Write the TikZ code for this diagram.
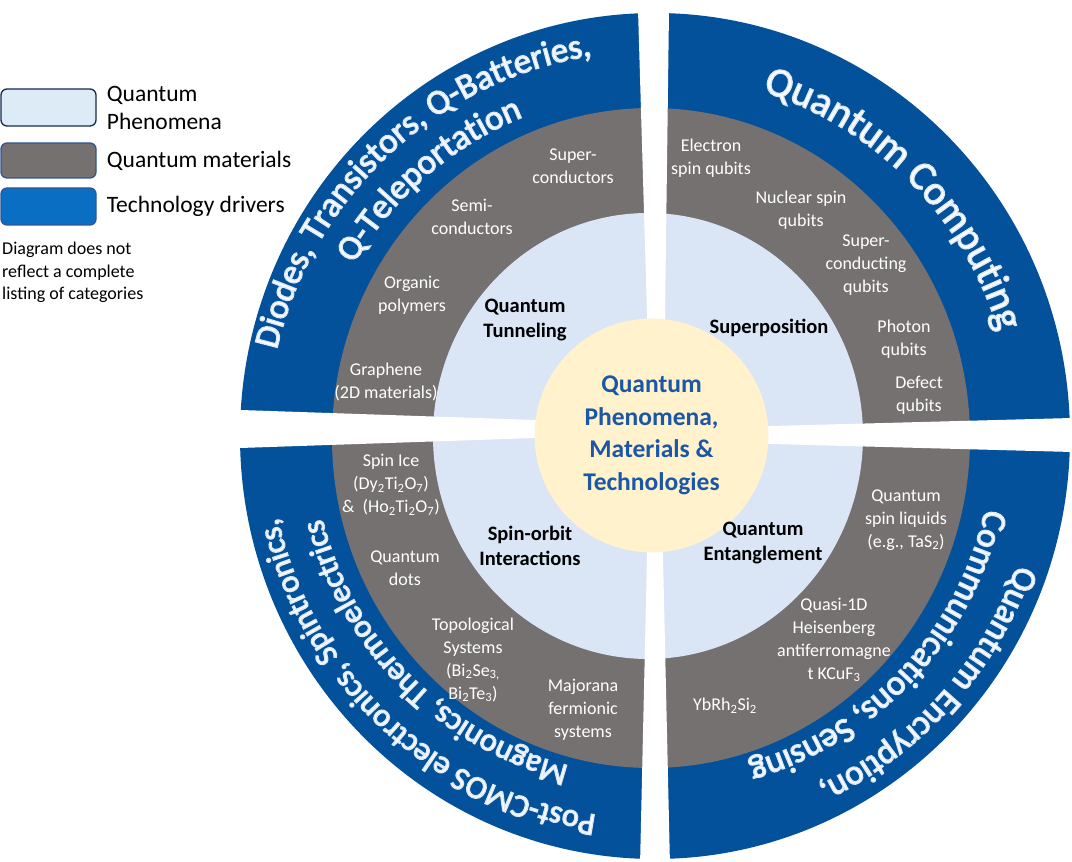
\documentclass[tikz,border=0pt]{standalone}
\usepackage{fontspec}
\setmainfont{Carlito}
\usetikzlibrary{positioning,decorations.text}

\definecolor{techblue}{HTML}{03519B}
\definecolor{legblue}{HTML}{0A6FC2}
\definecolor{matgray}{HTML}{767171}
\definecolor{phenblue}{HTML}{DAE5F5}
\definecolor{legphen}{HTML}{DDEBF7}
\definecolor{coreyellow}{HTML}{FFF2CC}
\definecolor{coretext}{HTML}{1B57A6}
\definecolor{legedge}{HTML}{2F5597}

\tikzset{
  legbox/.style={rounded corners=6pt, line width=1.3pt, minimum width=95pt, inner sep=0pt},
  legtext/.style={font=\fontsize{23.5}{28}\selectfont, align=left, inner sep=0pt},
  matlabel/.style={text=white, font=\fontsize{18}{23}\selectfont, align=center, inner sep=0pt},
  phenlabel/.style={font=\bfseries\fontsize{20.5}{25}\selectfont, align=center, inner sep=0pt},
  ringtext/.style 2 args={decorate, decoration={text along path, text align=center,
      text={|\fontsize{#1}{#1}\selectfont\color{white}\special{pdf:literal direct 2 Tr 1.3 w 0.86 0.91 0.97 RG}|#2}}}
}

% texto no anel externo: tamanho, raio, ângulo central, texto
\newcommand{\ringlabel}[4]{%
  \path[ringtext={#1}{#4}] ([shift={(#3+50:#2)}]O) arc[start angle=#3+50, end angle=#3-50, radius=#2];}

\begin{document}
\begin{tikzpicture}[x=1pt, y=1pt]

                \useasboundingbox (0,0) rectangle (1072,862);
                \coordinate (O) at (652,426);

                % Anéis
                \fill[techblue] (655,426) ellipse [x radius=415, y radius=423];
                \fill[matgray] (651,424) ellipse [x radius=319, y radius=330];
                \fill[phenblue] (648,426) ellipse [x radius=215, y radius=223];

                % Frestas entre os quadrantes
                \fill[white] (637.6,866) -- (669.2,866) -- (664.7,522) -- (647.8,522) -- cycle;
                \fill[white] (647.6,332) -- (662.4,332) -- (670,-4) -- (640,-4) -- cycle;
                \fill[white] (196,453.5) -- (560,441.2) -- (560,424.8) -- (196,412.5) -- cycle;
                \fill[white] (745,435.3) -- (1076,444.1) -- (1076,409.9) -- (745,418.7) -- cycle;

                % Centro
                \node[circle, fill=coreyellow, minimum size=234pt, inner sep=0pt, text=coretext,
                      font=\bfseries\fontsize{25.5}{32.5}\selectfont, align=center] (core) at (651.5,426.5)
                      {Quantum\\Phenomena,\\Materials \&\\Technologies};

                % Fenômenos
                \node[phenlabel] (tunnel) at (525,541.5) {Quantum\\Tunneling};
                \node[phenlabel] (superpos) at (769,534) {Superposition};
                \node[phenlabel] (spinorbit) at (530,316.5) {Spin-orbit\\Interactions};
                \node[phenlabel] (entangle) at (763,319) {Quantum\\Entanglement};

                % Materiais
                \node[matlabel] (supcond) at (573,696) {Super-\\conductors};
                \node[matlabel] (semicond) at (472,645) {Semi-\\conductors};
                \node[matlabel] (organic) at (412,567) {Organic\\polymers};
                \node[matlabel] (graphene) at (386,480) {Graphene\\(2D materials)};
                \node[matlabel] (electron) at (711,704) {Electron\\spin qubits};
                \node[matlabel] (nuclear) at (801,652) {Nuclear spin\\qubits};
                \node[matlabel] (supqubit) at (866,597) {Super-\\conducting\\qubits};
                \node[matlabel] (photon) at (904,523) {Photon\\qubits};
                \node[matlabel] (defect) at (919,467) {Defect\\qubits};
                \node[matlabel] (spinice) at (391,377) {Spin Ice\\(Dy\textsubscript{2}Ti\textsubscript{2}O\textsubscript{7})\\\&~ (Ho\textsubscript{2}Ti\textsubscript{2}O\textsubscript{7})};
                \node[matlabel] (qdots) at (405,294) {Quantum\\dots};
                \node[matlabel] (topo) at (473,202) {Topological\\Systems\\(Bi\textsubscript{2}Se\textsubscript{3,}\\Bi\textsubscript{2}Te\textsubscript{3})};
                \node[matlabel] (majorana) at (583,152) {Majorana\\fermionic\\systems};
                \node[matlabel] (qsl) at (906,342) {Quantum\\spin liquids\\(e.g., TaS\textsubscript{2})};
                \node[matlabel] (quasi) at (834,222) {Quasi-1D\\Heisenberg\\antiferromagne\\t KCuF\textsubscript{3}};
                \node[matlabel] (ybrh) at (725,156) {YbRh\textsubscript{2}Si\textsubscript{2}};

                % Legenda
                \node[legbox, fill=legphen, draw=legedge!50!black, minimum height=37pt] (legphen) at (48.5,754.5) {};
                \node[legbox, fill=matgray, draw=legedge, minimum height=35pt] (legmat) at (48.5,701.5) {};
                \node[legbox, fill=legblue, draw=legedge, minimum height=37pt] (legtech) at (48.5,655.5) {};
                \node[legtext, right=10pt of legphen] (legphentxt) {Quantum\\Phenomena};
                \node[legtext, right=10pt of legmat] (legmattxt) {Quantum materials};
                \node[legtext, right=10pt of legtech] (legtechtxt) {Technology drivers};
                \node[font=\fontsize{18}{22.5}\selectfont, align=left, inner sep=0pt, anchor=west] (note) at (2,589.5)
                      {Diagram does not\\reflect a complete\\listing of categories};

                % Tecnologias (texto no anel externo)
                \ringlabel{35}{385}{133}{Diodes, Transistors, Q-Batteries,}
                \ringlabel{35}{344}{131}{Q-Teleportation}
                \ringlabel{41}{362}{44.5}{Quantum Computing}
                \ringlabel{35}{387}{-42}{Quantum Encryption,}
                \ringlabel{35}{341}{-43}{Communications, Sensing}
                \ringlabel{32}{383}{227}{Post-CMOS electronics, Spintronics,}
                \ringlabel{32}{340}{225}{Magnonics, Thermoelectrics}

\end{tikzpicture}
\end{document}
